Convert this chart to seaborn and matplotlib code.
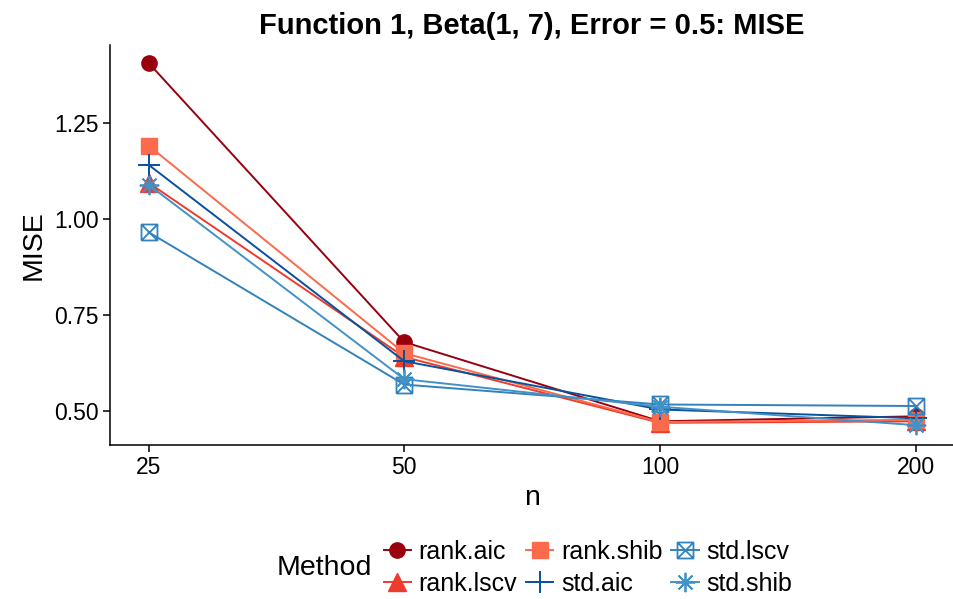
import matplotlib
matplotlib.use("Agg")
import matplotlib.pyplot as plt
from matplotlib.path import Path
import seaborn as sns
import pandas as pd
import numpy as np

n_labels = ["25", "50", "100", "200"]
methods = ["rank.aic", "rank.lscv", "rank.shib", "std.aic", "std.lscv", "std.shib"]
rank_aic = [1.408, 0.679, 0.472, 0.485]
rank_lscv = [1.095, 0.640, 0.468, 0.472]
rank_shib = [1.192, 0.650, 0.470, 0.476]
std_aic = [1.142, 0.629, 0.503, 0.480]
std_lscv = [0.966, 0.568, 0.516, 0.512]
std_shib = [1.090, 0.582, 0.510, 0.462]
values = [rank_aic, rank_lscv, rank_shib, std_aic, std_lscv, std_shib]

colors = ["#99000D", "#EF3B2C", "#FB6A4A", "#08519C", "#3182BD", "#4292C6"]

box_x = Path([(-1, -1), (1, -1), (1, 1), (-1, 1), (-1, -1), (-1, -1), (1, 1), (-1, 1), (1, -1)],
             [Path.MOVETO, Path.LINETO, Path.LINETO, Path.LINETO, Path.LINETO,
              Path.MOVETO, Path.LINETO, Path.MOVETO, Path.LINETO])
markers = ["o", "^", "s", "+", box_x, (8, 2, 0)]
msizes = [11, 13, 11.5, 16, 11.5, 14]
mfcs = [None, None, None, None, "none", None]
mews = [1, 1, 1, 1.4, 1.3, 1.3]

rows = []
for m, vals in zip(methods, values):
    for i, v in enumerate(vals):
        rows.append({"Method": m, "pos": i, "n": n_labels[i], "MISE": v})
df = pd.DataFrame(rows)

plt.rcParams["font.family"] = ["Liberation Sans", "DejaVu Sans"]
fig = plt.figure(figsize=(9.54, 5.99), dpi=100)
ax = fig.add_axes([0.115, 0.257, 0.885, 0.668])

for m, c, mk, ms, mfc, mew in zip(methods, colors, markers, msizes, mfcs, mews):
    sub = df[df["Method"] == m]
    kw = dict(marker=mk, markersize=ms, markeredgecolor=c, markeredgewidth=mew)
    kw["markerfacecolor"] = mfc if mfc is not None else c
    sns.lineplot(data=sub, x="pos", y="MISE", ax=ax, color=c, linewidth=1.4,
                 label=m, legend=False, **kw)

ax.set_xlim(-0.152, 3.15)
ax.set_ylim(0.41, 1.455)
ax.set_xticks(range(4))
ax.set_xticklabels(n_labels)
ax.set_yticks([0.5, 0.75, 1.0, 1.25])
ax.set_yticklabels(["0.50", "0.75", "1.00", "1.25"])
ax.tick_params(axis="both", labelsize=16.5, length=5, width=1.1, color="black",
               labelcolor="black", pad=3)
ax.set_xlabel("n", fontsize=20.5, labelpad=4)
ax.set_ylabel("MISE", fontsize=20.5, labelpad=5)
for s in ["top", "right"]:
    ax.spines[s].set_visible(False)
for s in ["left", "bottom"]:
    ax.spines[s].set_linewidth(1.1)
    ax.spines[s].set_color("black")
ax.set_title("Function 1, Beta(1, 7), Error = 0.5: MISE", fontsize=21, fontweight="bold", pad=8)

handles, labels = ax.get_legend_handles_labels()
leg = fig.legend(handles, labels, ncol=3, loc="center left", bbox_to_anchor=(0.402, 0.052),
                 frameon=False, fontsize=18, handlelength=1.1, handletextpad=0.3,
                 columnspacing=0.35, labelspacing=0.3, borderpad=0, borderaxespad=0)
fig.text(0.29, 0.052, "Method", fontsize=20.5, va="center", ha="left")

fig.savefig("out.png", dpi=100)
